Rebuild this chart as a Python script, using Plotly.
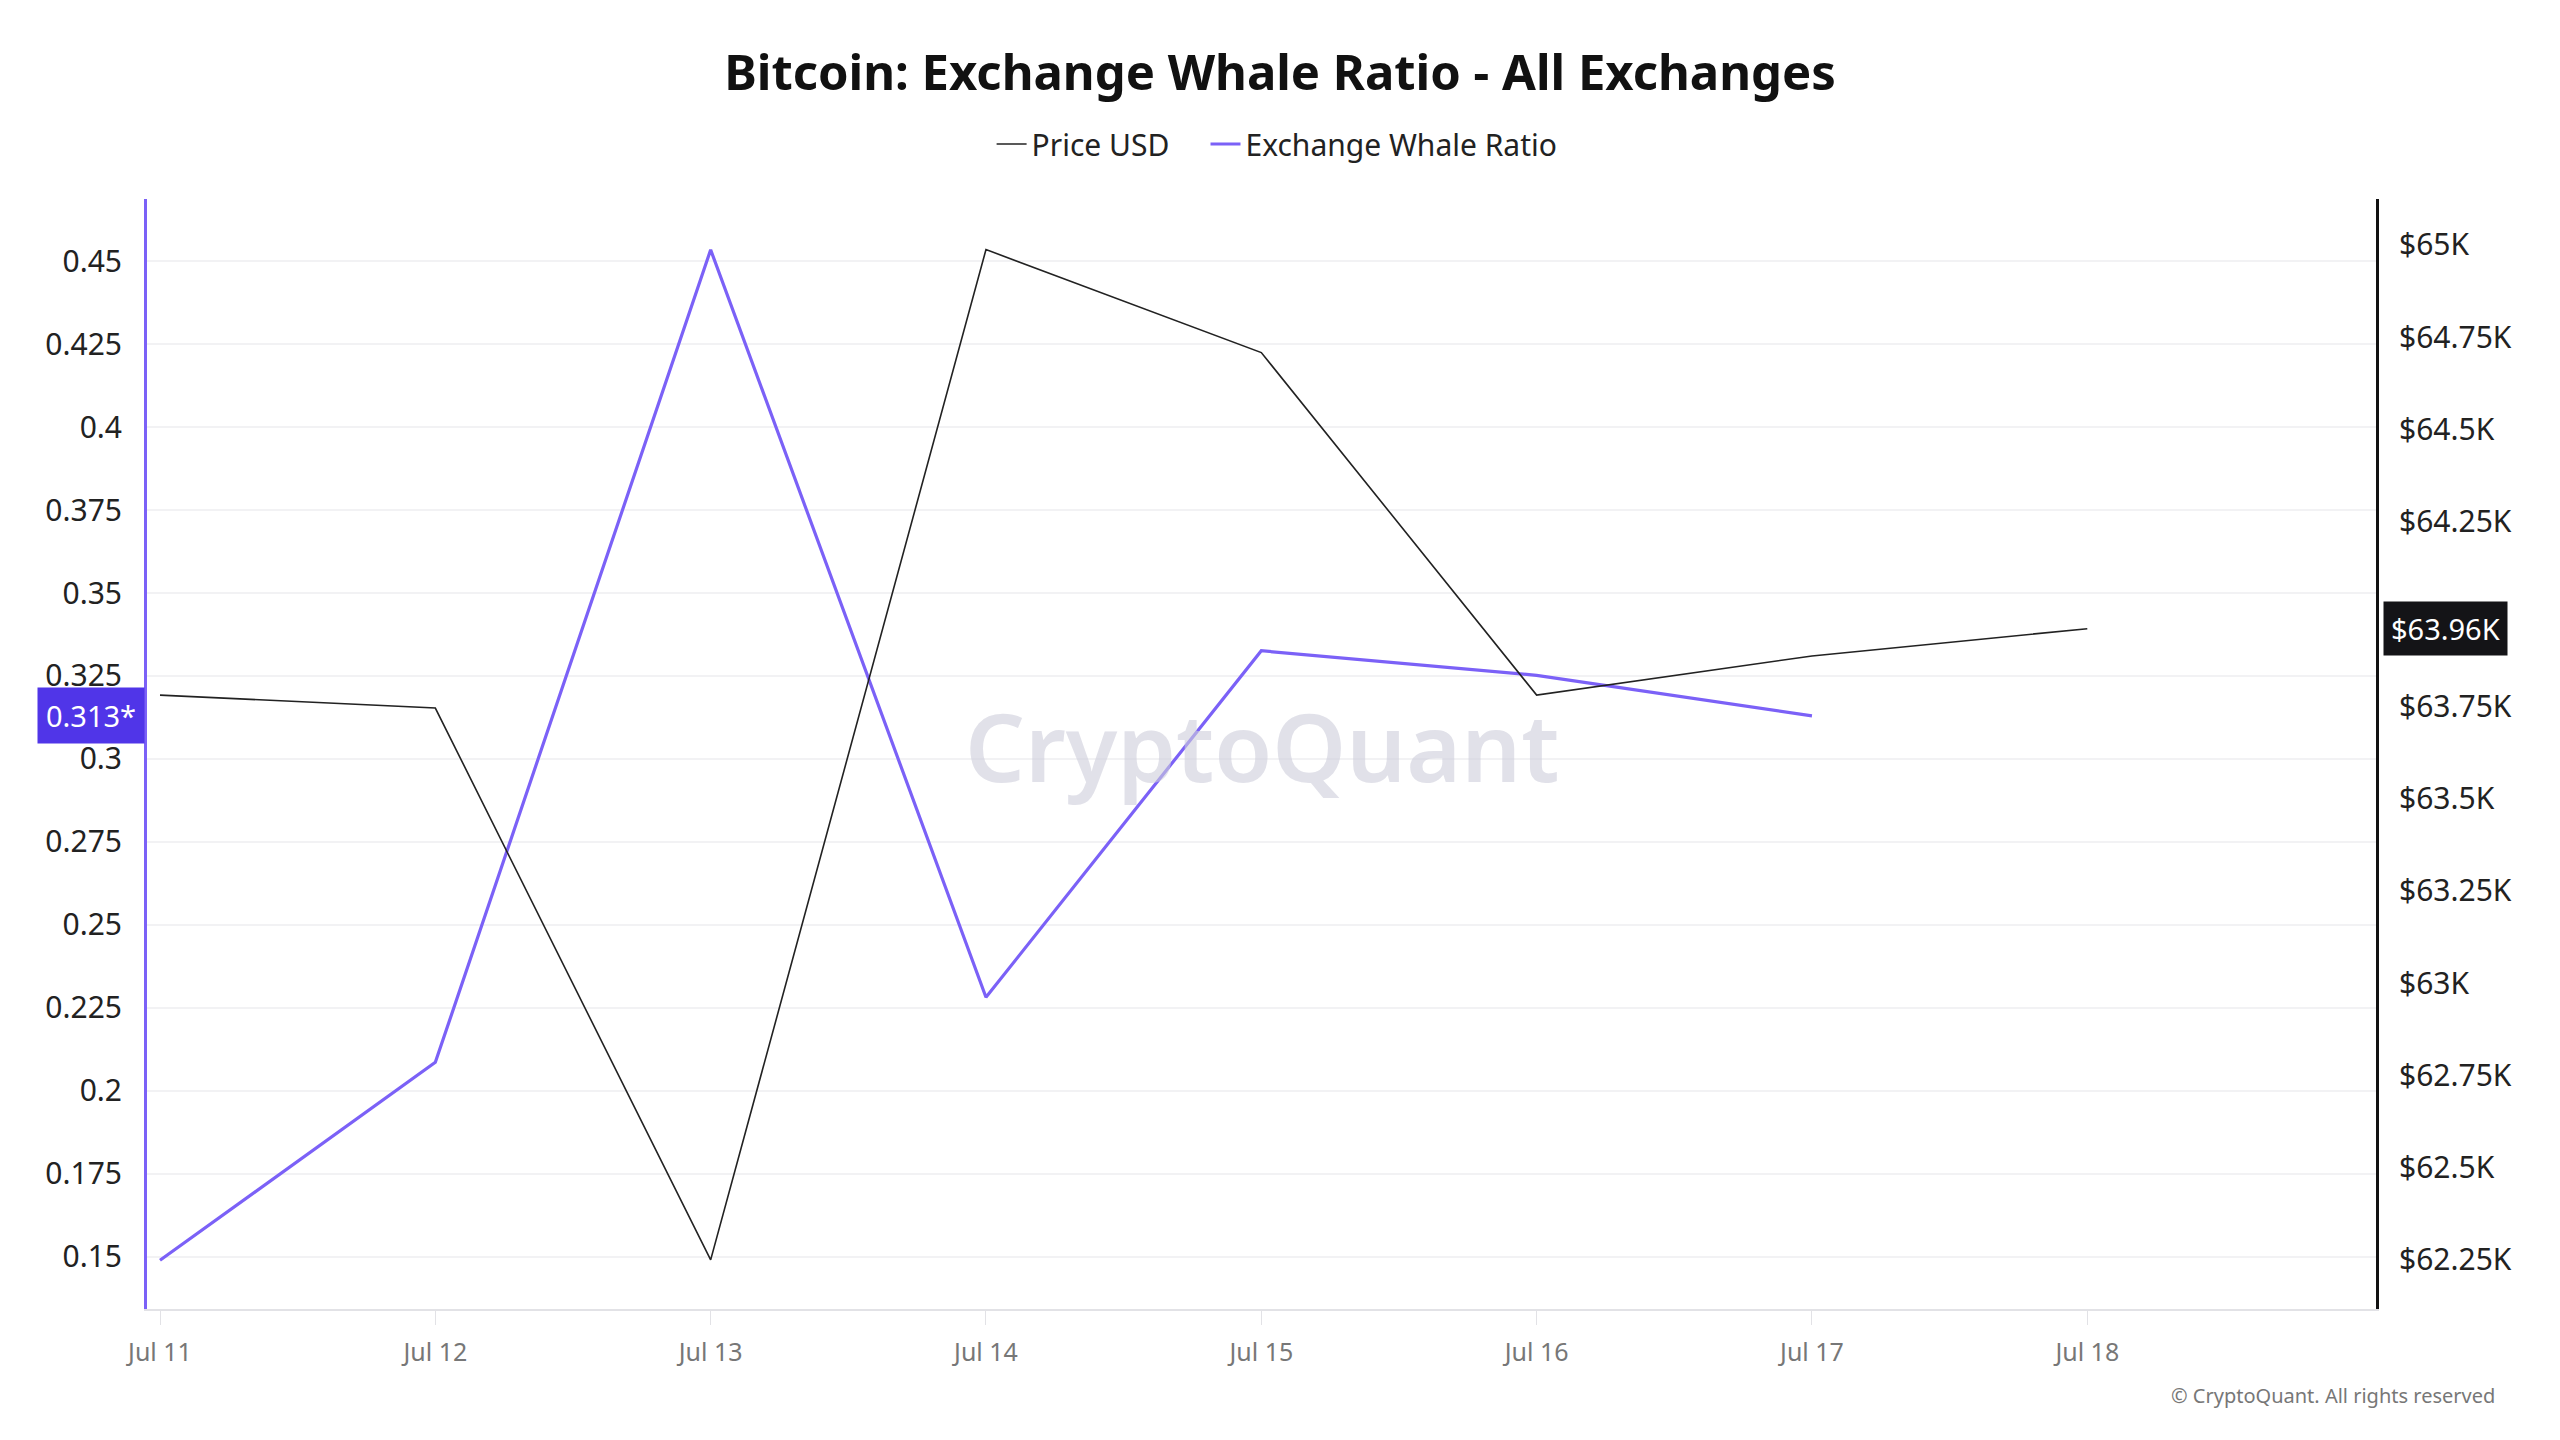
import plotly.graph_objects as go

dates = ["2024-07-11", "2024-07-12", "2024-07-13", "2024-07-14",
         "2024-07-15", "2024-07-16", "2024-07-17", "2024-07-18"]
price_usd = [63780, 63745, 62250, 64987, 64708, 63780, 63886, 63960]
whale_dates = dates[:7]
whale_ratio = [0.149, 0.2086, 0.4534, 0.2282, 0.3326, 0.3252, 0.313]

x_ticktext = ["Jul 11", "Jul 12", "Jul 13", "Jul 14", "Jul 15", "Jul 16", "Jul 17", "Jul 18"]
left_tickvals = [0.15, 0.175, 0.2, 0.225, 0.25, 0.275, 0.3, 0.325, 0.35, 0.375, 0.4, 0.425, 0.45]
left_ticktext = ["0.15", "0.175", "0.2", "0.225", "0.25", "0.275", "0.3", "0.325", "0.35", "0.375", "0.4", "0.425", "0.45"]
right_tickvals = [62250, 62500, 62750, 63000, 63250, 63500, 63750, 64250, 64500, 64750, 65000]
right_ticktext = ["$62.25K", "$62.5K", "$62.75K", "$63K", "$63.25K", "$63.5K", "$63.75K",
                  "$64.25K", "$64.5K", "$64.75K", "$65K"]

PURPLE = "#7b61f7"
FONT = "Noto Sans"
GAP = "\u00a0" * 4

fig = go.Figure()
fig.add_trace(go.Scatter(x=dates, y=price_usd, name="Price USD" + GAP, mode="lines",
                         line=dict(color="#222222", width=1.6), yaxis="y2"))
fig.add_trace(go.Scatter(x=whale_dates, y=whale_ratio, name="Exchange Whale Ratio", mode="lines",
                         line=dict(color=PURPLE, width=3.2), yaxis="y"))

fig.update_layout(
    width=2560, height=1440,
    paper_bgcolor="white", plot_bgcolor="white",
    margin=dict(l=147, r=184, t=199, b=131),
    font=dict(family=FONT, color="#222222", size=29),
    title=dict(text="<b>Bitcoin: Exchange Whale Ratio - All Exchanges</b>",
               x=0.5, xanchor="center", y=1 - 73 / 1440, yanchor="middle", yref="container",
               font=dict(size=49, color="#111111", family=FONT)),
    showlegend=True,
    legend=dict(orientation="h", x=0.507, xanchor="center", y=1 - 144 / 1440, yanchor="middle",
                yref="container", font=dict(size=30, color="#222222"), itemwidth=30,
                traceorder="normal"),
    xaxis=dict(type="date", range=["2024-07-10 22:52", "2024-07-19 01:10"],
               tickvals=dates, ticktext=x_ticktext,
               showgrid=False, showline=True, linecolor="#e2e2e6", linewidth=2,
               ticks="outside", ticklen=14, tickcolor="#e2e2e6", tickwidth=1,
               tickfont=dict(size=25, color="#777777"), ticklabelstandoff=6, zeroline=False),
    yaxis=dict(range=[0.1343, 0.4687], tickvals=left_tickvals, ticktext=left_ticktext,
               showgrid=True, gridcolor="#f2f2f4", gridwidth=1.5,
               showline=True, linecolor=PURPLE, linewidth=3, zeroline=False,
               ticks="", ticklabelstandoff=16, tickfont=dict(size=30, color="#222222")),
    yaxis2=dict(range=[62117, 65124], tickvals=right_tickvals, ticktext=right_ticktext,
                overlaying="y", side="right", showgrid=False,
                showline=True, linecolor="#111111", linewidth=3, zeroline=False,
                ticks="", ticklabelstandoff=14, tickfont=dict(size=30, color="#222222")),
)

fig.add_annotation(text="CryptoQuant", xref="paper", yref="paper", x=0.5, y=0.507,
                   showarrow=False, font=dict(size=94, color="rgba(205,205,218,0.6)", family=FONT, weight=600))

fig.add_annotation(text="0.313*", xref="paper", yref="y", x=-0.001, xanchor="right",
                   y=whale_ratio[-1], yanchor="middle", showarrow=False,
                   bgcolor="#5035e8", borderpad=8,
                   font=dict(size=29, color="white", family=FONT))
fig.add_annotation(text="$63.96K", xref="paper", yref="y2", x=1.003, xanchor="left",
                   y=price_usd[-1], yanchor="middle", showarrow=False,
                   bgcolor="#141417", borderpad=7,
                   font=dict(size=29, color="white", family=FONT))

fig.add_annotation(text="© CryptoQuant. All rights reserved", xref="paper", yref="paper",
                   x=1.0543, xanchor="right", y=-0.078, yanchor="middle", showarrow=False,
                   font=dict(size=20, color="#777777", family=FONT))

fig.write_html("out.html")
